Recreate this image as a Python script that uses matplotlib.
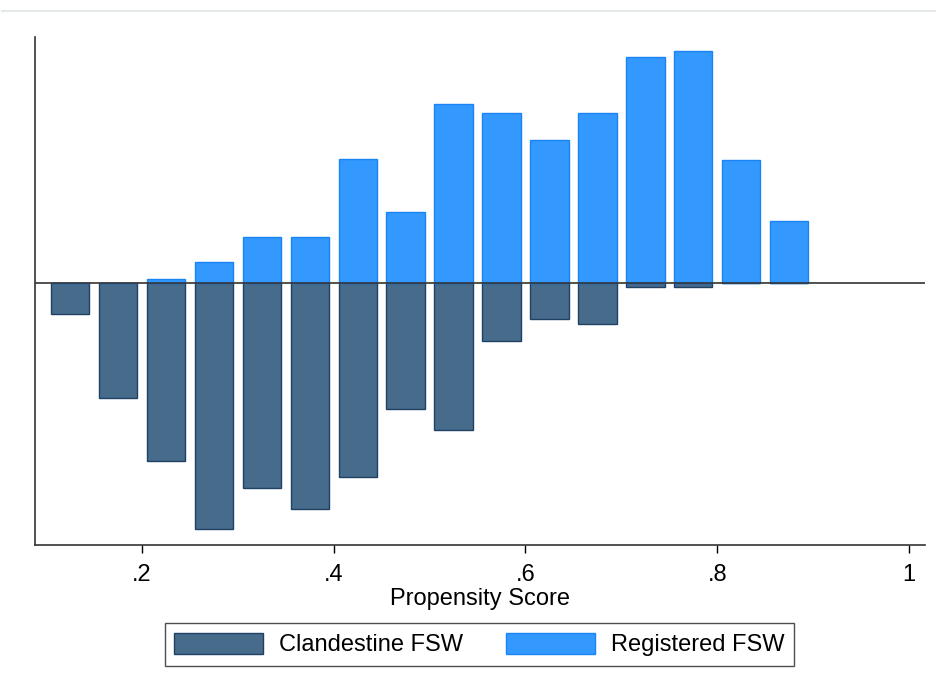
import matplotlib.pyplot as plt
from matplotlib.lines import Line2D
from matplotlib.patches import Patch
import numpy as np

plt.rcParams['font.family'] = ['Liberation Sans', 'DejaVu Sans']

# bin midpoints of the propensity score
bins = [0.125, 0.175, 0.225, 0.275, 0.325, 0.375, 0.425, 0.475,
        0.525, 0.575, 0.625, 0.675, 0.725, 0.775, 0.825, 0.875]
registered = [0.0, 0.0, 0.044, 0.207, 0.46, 0.46, 1.237, 0.714,
              1.794, 1.704, 1.434, 1.704, 2.264, 2.317, 1.234, 0.62]
clandestine = [0.306, 1.15, 1.78, 2.46, 2.046, 2.26, 1.94, 1.256,
               1.473, 0.576, 0.363, 0.413, 0.04, 0.04, 0.0, 0.0]
xticks = [0.2, 0.4, 0.6, 0.8, 1.0]
xticklabels = ['.2', '.4', '.6', '.8', '1']

dark = '#476b8b'
blue = '#3399ff'

fig = plt.figure(figsize=(9.37, 6.92), dpi=100)
ax = fig.add_axes([35/937, 147/692, 890/937, 508/692])

ax.bar(bins, -np.array(clandestine), width=0.04, color=dark,
       edgecolor='#1f4163', linewidth=1, zorder=2)
ax.bar(bins, registered, width=0.04, color=blue,
       edgecolor='#1a84f5', linewidth=1, zorder=3)
ax.axhline(0, color='#333333', linewidth=1.2, zorder=4)

ax.set_xlim(0.0884, 1.0167)
ax.set_ylim(-2.62, 2.46)
ax.set_xticks(xticks)
ax.set_xticklabels(xticklabels, fontsize=17)
ax.set_yticks([])
ax.tick_params(axis='x', length=6, width=1, pad=8)
ax.set_xlabel('Propensity Score', fontsize=17, labelpad=1)
for s in ['top', 'right']:
    ax.spines[s].set_visible(False)
for s in ['left', 'bottom']:
    ax.spines[s].set_color('#333333')
    ax.spines[s].set_linewidth(1.2)

handles = [Patch(facecolor=dark, edgecolor='#1f4163'),
           Patch(facecolor=blue, edgecolor='#1a84f5')]
leg = fig.legend(handles, ['Clandestine FSW', 'Registered FSW'], ncol=2,
                 loc='center', bbox_to_anchor=(479.5/937, 1 - 644.5/692),
                 fontsize=17, frameon=True, fancybox=False,
                 handlelength=3.77, handleheight=1.0, columnspacing=1.8,
                 handletextpad=0.68, borderpad=0.4)
leg.get_frame().set_edgecolor('#222222')
leg.get_frame().set_linewidth(1.0)

# faint separator line at the very top
fig.add_artist(Line2D([0.002, 1.0], [1 - 11/692, 1 - 11/692],
                      color='#e4e8e8', linewidth=1.5))

fig.savefig('out.png', dpi=100)
